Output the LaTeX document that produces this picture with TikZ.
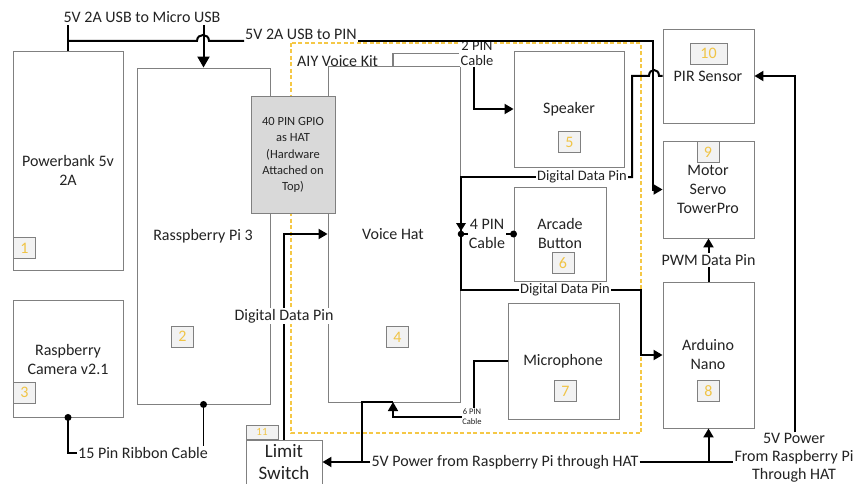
\documentclass[tikz,border=0pt]{standalone}
\usepackage{fontspec}
\setmainfont{Carlito}
\usetikzlibrary{arrows.meta}
\definecolor{boxgray}{RGB}{128,128,128}
\definecolor{gpiofill}{RGB}{217,217,217}
\definecolor{numfill}{RGB}{242,242,242}
\definecolor{numgold}{RGB}{240,196,70}
\definecolor{kityellow}{RGB}{245,200,70}
\definecolor{txt}{RGB}{35,35,35}
\begin{document}
\begin{tikzpicture}[x=1pt,y=-1pt,>={Triangle[length=9pt,width=10pt]},
  box/.style={draw=boxgray,line width=0.9pt,fill=white,inner sep=0pt},
  numbox/.style={draw=boxgray,line width=0.9pt,fill=numfill,text=numgold,font=\fontsize{16}{16}\selectfont,inner sep=0pt,minimum width=22pt,minimum height=21pt},
  lbl/.style={font=\fontsize{16}{19}\selectfont,align=center,inner sep=1pt,text=txt},
  lblm/.style={font=\fontsize{14.5}{15}\selectfont,align=center,inner sep=1pt,text=txt},
  lbls/.style={font=\fontsize{12.5}{16.2}\selectfont,align=center,inner sep=1pt,text=txt},
  lblt/.style={font=\fontsize{8.5}{10}\selectfont,align=center,inner sep=0.5pt,text=txt},
  lblb/.style={font=\fontsize{19}{22}\selectfont,align=center,inner sep=1pt,text=txt},
  conn/.style={line width=2pt,draw=black},
  midc/.style={line width=1.5pt,draw=black},
  thinc/.style={line width=1.2pt,draw=black},
  grayc/.style={line width=1.3pt,draw=boxgray},
  kit/.style={draw=kityellow,line width=2pt,dash pattern=on 4pt off 2.5pt}]
\fill[white] (0,0) rectangle (856,484);
\useasboundingbox (0,0) rectangle (856,484);

% AIY Voice Kit frame
\draw[kit] (291,43) rectangle (641,433);

% boxes
\node[box,minimum width=110pt,minimum height=219pt] (pb) at (68,160.5) {};
\node[box,minimum width=110pt,minimum height=117pt] (cam) at (68,358.5) {};
\node[box,minimum width=133pt,minimum height=336pt] (pi) at (203.5,236) {};
\node[box,minimum width=132pt,minimum height=336pt] (vh) at (394,234) {};
\node[box,fill=gpiofill,minimum width=84pt,minimum height=117pt] (gpio) at (293,154.5) {};
\node[box,minimum width=110pt,minimum height=116pt] (spk) at (569,109) {};
\node[box,minimum width=92pt,minimum height=94pt] (arc) at (560,234) {};
\node[box,minimum width=111pt,minimum height=116pt] (mic) at (563.5,361) {};
\node[box,minimum width=91pt,minimum height=94pt] (pir) at (708.5,76) {};
\node[box,minimum width=91pt,minimum height=97pt] (servo) at (708.5,189.5) {};
\node[box,minimum width=91pt,minimum height=146pt] (ard) at (708.5,355) {};
\node[numbox,minimum width=32pt,minimum height=14pt,font=\fontsize{11}{11}\selectfont] (n11) at (262,432) {11};
\node[box,minimum width=76pt,minimum height=44pt] (ls) at (284,462) {};

% box texts
\node[lbl] (pbt) at (68,170) {Powerbank 5v\\2A};
\node[lbl] (camt) at (68,359.5) {Raspberry\\Camera v2.1};
\node[lbl] (pit) at (203,236) {Rasspberry Pi 3};
\node[lbls] (gpiot) at (293,155) {40 PIN GPIO\\as HAT\\(Hardware\\Attached on\\Top)};
\node[lbl] (vht) at (393,234) {Voice Hat};
\node[lbl] (spkt) at (569,109) {Speaker};
\node[lbl] (arct) at (560,234) {Arcade\\Button};
\node[lbl] (mict) at (563,361) {Microphone};
\node[lbl] (pirt) at (708,76) {PIR Sensor};
\node[lbl] (servot) at (708,189.5) {Motor\\Servo\\TowerPro};
\node[lbl] (ardt) at (708,354.5) {Arduino\\Nano};
\node[lblb] (lst) at (284,462) {Limit\\Switch};
\node[lbl,anchor=west] (aiy) at (296,61) {AIY Voice Kit};

% numbers
\node[numbox] (n1) at (24.5,248) {1};
\node[numbox] (n2) at (182.5,336.5) {2};
\node[numbox] (n3) at (24.5,392.5) {3};
\node[numbox] (n4) at (397.5,337) {4};
\node[numbox] (n5) at (569.5,142) {5};
\node[numbox] (n6) at (563,263) {6};
\node[numbox] (n7) at (565.5,391) {7};
\node[numbox] (n8) at (708.5,391) {8};
\node[numbox] (n9) at (708,152) {9};
\node[numbox,minimum width=37pt] (n10) at (708.5,53.5) {10};

% 2 PIN cable
\node[lblm,fill=white] (pin2) at (477,53.5) {2 PIN\\Cable};
\draw[grayc] ([xshift=-1pt]vh.north) |- (pin2.west);
\draw[conn,->] ([xshift=-3pt]pin2.south) |- (spk.west);

% Micro USB
\node[lbl,fill=white,inner sep=2pt] (musb) at (142,17) {5V 2A USB to Micro USB};
\draw[conn] (pb.north) -- (pb.north |- musb.south);
\draw[conn,-{Triangle[length=11pt,width=12pt]}] (pi.north |- musb.south) -- (pi.north);

% USB to PIN
\coordinate (j1) at (68,41);
\node[lbl,fill=white,anchor=base west] (upin) at (244,40) {5V 2A USB to PIN};
\draw[conn] (j1) -- (197,41) .. controls (197,33) and (209,33) .. (209,41) -- (upin.west |- j1);
\draw[conn,->] (upin.east |- j1) -- (653,41) -- (653,189.5) -- (servo.west);

% Digital data pins from Voice Hat
\coordinate (r1) at (461,177);
\coordinate (r2) at (461,290);
\node[lblm,fill=white] (ddp1) at (582,177) {Digital Data Pin};
\node[lblm,fill=white] (ddp2) at (565,290) {Digital Data Pin};
\draw[conn] (ddp1.west) -- (r1) -- (r2) -- (ddp2.west);
\draw[conn] (ddp1.east) -- (632,177) -- (632,76) -- (649,76) .. controls (649,68) and (659,68) .. (659,76) -- (pir.west);
\draw[conn,->] (ddp2.east) -- (641,290) -- (641,355) -- (ard.west);

% 4 PIN cable
\node[lbl] (pin4) at (487,234) {4 PIN\\Cable};
\coordinate (r3) at (461,234);
\draw[thinc] (arc.west) -- (pin4.east);
\draw[thinc] (pin4.west) -- (r3);
\fill (arc.west) circle (3.5pt);
\fill (r3) circle (3.3pt);
\fill (456,223) -- (466,223) -- (461,231) -- cycle;

% Digital data pin to Voice Hat
\draw[conn,->] (ls.north) |- (vh.west) node[pos=0.3,lbl,fill=white] (ddp3) {Digital Data Pin};

% 6 PIN cable
\node[lblt] (pin6) at (472,417) {6 PIN\\Cable};
\coordinate (vhb) at (393,402);
\draw[midc] (mic.west) -| ([xshift=2pt]pin6.north);
\draw[midc,->] (pin6.west) -| (vhb);

% Power
\node[font=\fontsize{16}{18}\selectfont,align=center,inner sep=1pt,text=txt] (src) at (794,458) {5V Power\\From Raspberry Pi\\Through HAT};
\node[lbl,fill=white] (pw) at (505,462) {5V Power from Raspberry Pi through HAT};
\coordinate (pj1) at (362,462);
\coordinate (pj2) at (708.5,462);
\draw[conn,->] (pw.west) -- (ls.east);
\draw[conn] (pj1) |- (vhb);
\draw[conn] (pw.east) -- (src.west |- pw.east);
\draw[conn,->] (pj2) -- (ard.south);
\draw[conn,->] ([xshift=1pt]src.north) |- (pir.east);

% PWM
\draw[conn,->] (ard.north) -- (servo.south) node[midway,lbl,fill=white] (pwm) {PWM Data Pin};

% 15 pin ribbon
\node[lbl] (rb) at (143,453) {15 Pin Ribbon Cable};
\draw[midc] (cam.south) |- (rb.west);
\draw[midc] (pi.south) -- (pi.south |- rb.north);
\fill (cam.south) circle (3.5pt);
\fill (pi.south) circle (3.5pt);
\end{tikzpicture}
\end{document}
